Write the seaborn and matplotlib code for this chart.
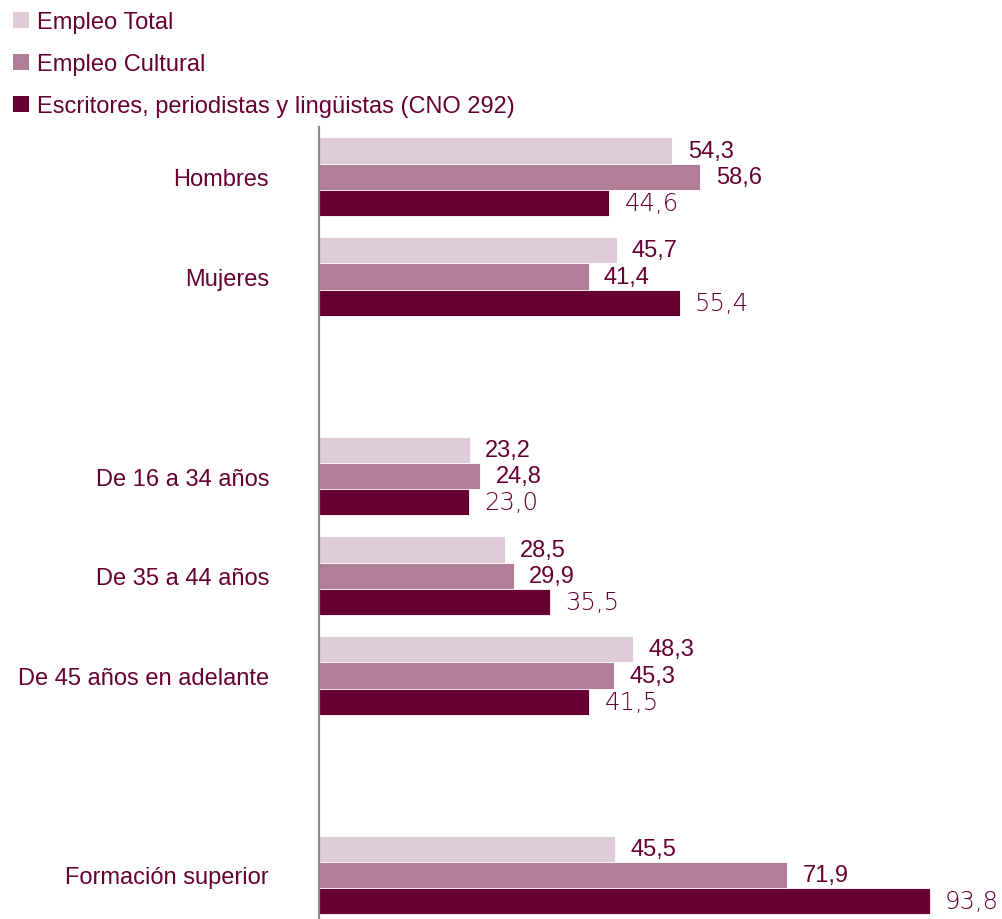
import matplotlib
matplotlib.use("Agg")
import matplotlib.pyplot as plt
import seaborn as sns
import pandas as pd
from matplotlib.patches import Patch

categories = ["Hombres", "Mujeres", " ", "De 16 a 34 años", "De 35 a 44 años",
              "De 45 años en adelante", "  ", "Formación superior"]
data_categories = ["Hombres", "Mujeres", "De 16 a 34 años", "De 35 a 44 años",
                   "De 45 años en adelante", "Formación superior"]
series = ["Empleo Total", "Empleo Cultural", "Escritores, periodistas y lingüistas (CNO 292)"]
empleo_total = [54.3, 45.7, 23.2, 28.5, 48.3, 45.5]
empleo_cultural = [58.6, 41.4, 24.8, 29.9, 45.3, 71.9]
escritores = [44.6, 55.4, 23.0, 35.5, 41.5, 93.8]
colors = ["#E0CCD7", "#B07E97", "#660033"]
text_color = "#660033"

rows = []
for s, vals in zip(series, [empleo_total, empleo_cultural, escritores]):
    for c, v in zip(data_categories, vals):
        rows.append({"cat": c, "serie": s, "val": v})
df = pd.DataFrame(rows)

sns.set_theme(style="white")
plt.rcParams["font.family"] = ["Liberation Sans", "DejaVu Sans"]

W, H = 1002, 920
fig = plt.figure(figsize=(W / 100, H / 100), dpi=100)
ax_left, ax_top = 319, 128
ax = fig.add_axes([ax_left / W, 0, (W - ax_left) / W, (H - ax_top) / H])

sns.barplot(data=df, y="cat", x="val", hue="serie", order=categories,
            hue_order=series, palette=colors, saturation=1, orient="h", width=0.79,
            edgecolor="white", linewidth=0.6, ax=ax, legend=False)

px_per_unit = 6.51
ax.set_xlim(0, (W - ax_left) / px_per_unit)
slot = 99.7
ax.set_ylim(7 + (H - 876) / slot, -0.5)

fs = 17
for i, cont in enumerate(ax.containers):
    labels = [f"{v:.1f}".replace(".", ",") for v in cont.datavalues]
    if i < 2:
        ax.bar_label(cont, labels=labels, padding=11, fontsize=fs, color=text_color,
                     clip_on=False)
    else:
        ax.bar_label(cont, labels=labels, padding=11, fontsize=17.5, color=text_color,
                     family="DejaVu Sans", fontweight="light", clip_on=False)

ax.set_xlabel("")
ax.set_ylabel("")
ax.set_xticks([])
ax.tick_params(axis="y", length=0, pad=36, labelsize=fs, labelcolor=text_color)
for sp in ["top", "right", "bottom"]:
    ax.spines[sp].set_visible(False)
ax.spines["left"].set_color("#8c8c8c")
ax.spines["left"].set_linewidth(1.6)

handles = [Patch(facecolor=c, edgecolor="none") for c in colors]
fig.legend(handles, series, loc="upper left", bbox_to_anchor=(0.002, 0.998),
           frameon=False, fontsize=fs, labelcolor=text_color,
           handlelength=0.7, handleheight=0.7, handletextpad=0.35,
           labelspacing=0.84, borderaxespad=0.15, borderpad=0.3)

fig.savefig("out.png", dpi=100)
